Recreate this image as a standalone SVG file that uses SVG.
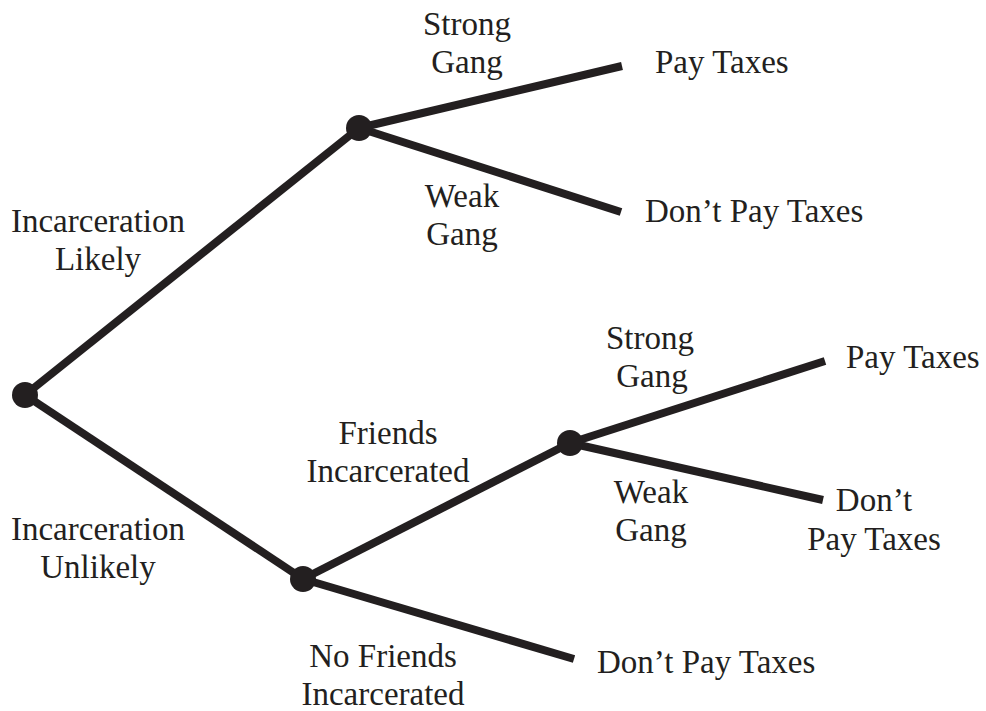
<svg xmlns="http://www.w3.org/2000/svg" width="986" height="711" viewBox="0 0 986 711">
<style>
.e{stroke:#231f20;stroke-width:8;stroke-linecap:butt;fill:none}
.n{fill:#231f20}
text{font-family:"Liberation Serif","Times New Roman",serif;font-size:33px;fill:#231f20}
.c{text-anchor:middle}
</style>
<rect width="986" height="711" fill="#fff"/>
<g id="connectors">
<line class="e" x1="25" y1="395" x2="359" y2="128"/>
<line class="e" x1="25" y1="395" x2="303" y2="579"/>
<line class="e" x1="359" y1="128" x2="622" y2="66"/>
<line class="e" x1="359" y1="128" x2="621" y2="212"/>
<line class="e" x1="303" y1="579" x2="570" y2="443"/>
<line class="e" x1="303" y1="579" x2="574" y2="659"/>
<line class="e" x1="570" y1="443" x2="825" y2="361"/>
<line class="e" x1="570" y1="443" x2="823" y2="500"/>
</g>
<g id="root"><circle class="n" cx="25" cy="395" r="13"/></g>
<g id="nodeA"><circle class="n" cx="359" cy="128" r="13"/></g>
<g id="nodeB"><circle class="n" cx="303" cy="579" r="13"/></g>
<g id="nodeC"><circle class="n" cx="570" cy="443" r="13"/></g>
<g id="labels">
<text class="c" x="98" y="232">Incarceration</text>
<text class="c" x="98" y="270">Likely</text>
<text class="c" x="98" y="540">Incarceration</text>
<text class="c" x="98" y="578">Unlikely</text>
<text class="c" x="467" y="35">Strong</text>
<text class="c" x="467" y="73">Gang</text>
<text class="c" x="462" y="207">Weak</text>
<text class="c" x="462" y="245">Gang</text>
<text class="c" x="388" y="444">Friends</text>
<text class="c" x="388" y="482">Incarcerated</text>
<text class="c" x="383" y="667">No Friends</text>
<text class="c" x="383" y="705">Incarcerated</text>
<text class="c" x="650" y="349">Strong</text>
<text class="c" x="652" y="387">Gang</text>
<text class="c" x="651" y="503">Weak</text>
<text class="c" x="651" y="541">Gang</text>
</g>
<g id="outcomes">
<text x="655" y="73">Pay Taxes</text>
<text x="645" y="222">Don’t Pay Taxes</text>
<text x="846" y="368">Pay Taxes</text>
<text class="c" x="874" y="511">Don’t</text>
<text class="c" x="874" y="550">Pay Taxes</text>
<text x="597" y="673">Don’t Pay Taxes</text>
</g>
</svg>
